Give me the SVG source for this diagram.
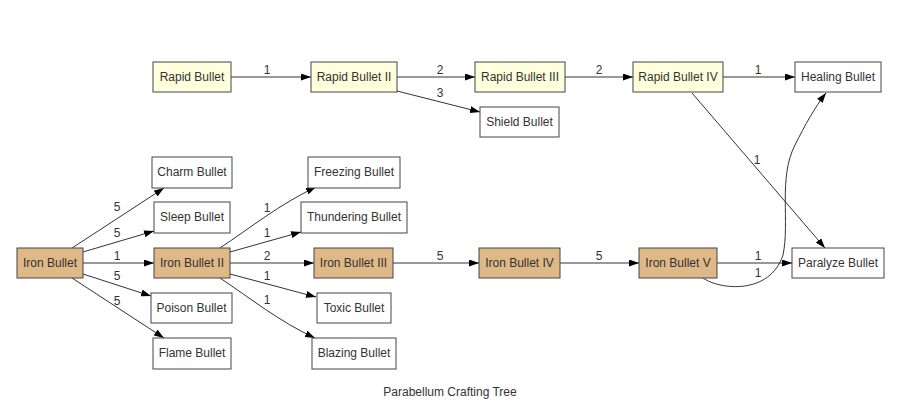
<svg xmlns="http://www.w3.org/2000/svg" width="900" height="406" viewBox="0 0 900 406">
<style>
.n rect{stroke:#444;stroke-width:1}
.r rect{fill:#ffffdd}
.i rect{fill:#deb887}
.w rect{fill:#ffffff}
.n text{font-family:"Liberation Sans",Arial,sans-serif;font-size:12px;fill:#333;text-anchor:middle}
.e path{fill:none;stroke:#333;stroke-width:1;marker-end:url(#a)}
.e text{font-family:"Liberation Sans",Arial,sans-serif;font-size:12px;fill:#333;text-anchor:middle}
.t{font-family:"Liberation Sans",Arial,sans-serif;font-size:12px;fill:#333;text-anchor:middle}
</style>
<defs>
<marker id="a" markerUnits="userSpaceOnUse" markerWidth="10" markerHeight="7" refX="10" refY="3.5" orient="auto">
<path d="M0,0 L10,3.5 L0,7 z" fill="#000"/>
</marker>
</defs>
<rect width="900" height="406" fill="#fff"/>
<g class="e" id="edges">
<path d="M231,77 L311,77"/><text x="267" y="74">1</text>
<path d="M397,77 L475,77"/><text x="440" y="74">2</text>
<path d="M397,91 L480,112"/><text x="440" y="97">3</text>
<path d="M565,77 L633,77"/><text x="599" y="74">2</text>
<path d="M723,77 L795,77"/><text x="758" y="74">1</text>
<path d="M692,93 L825,248"/><text x="757" y="164">1</text>
<path d="M703,278 C720,290 770,295 783,255 C790,222 778,178 795,145 C805,125 815,107 826,93"/><text x="758" y="277">1</text>
<path d="M717,263 L792,263"/><text x="758" y="260">1</text>
<path d="M72,248 L164,188"/><text x="117" y="211">5</text>
<path d="M83,252 L154,231"/><text x="117" y="237">5</text>
<path d="M83,263 L154,263"/><text x="117" y="260">1</text>
<path d="M83,274 L151,296"/><text x="117" y="280">5</text>
<path d="M72,278 L164,338"/><text x="117" y="305">5</text>
<path d="M220,248 C250,228 280,204 316,187"/><text x="267" y="212">1</text>
<path d="M230,252 L301,232"/><text x="267" y="237">1</text>
<path d="M230,263 L314,263"/><text x="267" y="260">2</text>
<path d="M230,274 L316,297"/><text x="267" y="280">1</text>
<path d="M220,278 C250,298 280,322 315,338"/><text x="267" y="304">1</text>
<path d="M393,263 L479,263"/><text x="440" y="260">5</text>
<path d="M560,263 L639,263"/><text x="599" y="260">5</text>
</g>
<g id="rapid1" class="n r"><rect x="153" y="62" width="78" height="30"/><text x="192" y="81">Rapid Bullet</text></g>
<g id="rapid2" class="n r"><rect x="311" y="62" width="86" height="30"/><text x="354" y="81">Rapid Bullet II</text></g>
<g id="rapid3" class="n r"><rect x="475" y="62" width="90" height="30"/><text x="520" y="81">Rapid Bullet III</text></g>
<g id="rapid4" class="n r"><rect x="633" y="62" width="90" height="30"/><text x="678" y="81">Rapid Bullet IV</text></g>
<g id="healing" class="n w"><rect x="795" y="62" width="86" height="30"/><text x="838" y="81">Healing Bullet</text></g>
<g id="shield" class="n w"><rect x="480" y="107" width="79" height="30"/><text x="519.5" y="126">Shield Bullet</text></g>
<g id="charm" class="n w"><rect x="152" y="157" width="80" height="31"/><text x="192" y="176">Charm Bullet</text></g>
<g id="sleep" class="n w"><rect x="154" y="202" width="76" height="31"/><text x="192" y="221">Sleep Bullet</text></g>
<g id="iron1" class="n i"><rect x="17" y="248" width="66" height="30"/><text x="50" y="267">Iron Bullet</text></g>
<g id="iron2" class="n i"><rect x="154" y="248" width="76" height="30"/><text x="192" y="267">Iron Bullet II</text></g>
<g id="poison" class="n w"><rect x="151" y="293" width="81" height="30"/><text x="191.5" y="312">Poison Bullet</text></g>
<g id="flame" class="n w"><rect x="153" y="338" width="78" height="31"/><text x="192" y="357">Flame Bullet</text></g>
<g id="freezing" class="n w"><rect x="308" y="157" width="92" height="31"/><text x="354" y="176">Freezing Bullet</text></g>
<g id="thundering" class="n w"><rect x="301" y="202" width="106" height="31"/><text x="354" y="221">Thundering Bullet</text></g>
<g id="iron3" class="n i"><rect x="314" y="248" width="79" height="30"/><text x="353.5" y="267">Iron Bullet III</text></g>
<g id="toxic" class="n w"><rect x="317" y="293" width="74" height="30"/><text x="354" y="312">Toxic Bullet</text></g>
<g id="blazing" class="n w"><rect x="312" y="338" width="84" height="31"/><text x="354" y="357">Blazing Bullet</text></g>
<g id="iron4" class="n i"><rect x="479" y="248" width="81" height="30"/><text x="519.5" y="267">Iron Bullet IV</text></g>
<g id="iron5" class="n i"><rect x="639" y="248" width="78" height="30"/><text x="678" y="267">Iron Bullet V</text></g>
<g id="paralyze" class="n w"><rect x="792" y="248" width="92" height="30"/><text x="838" y="267">Paralyze Bullet</text></g>
<text class="t" x="450" y="396">Parabellum Crafting Tree</text>
</svg>
